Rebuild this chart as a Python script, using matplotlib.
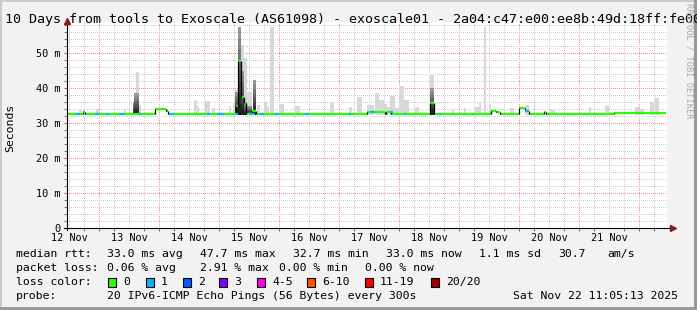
import numpy as np
import matplotlib
matplotlib.use("Agg")
import matplotlib.pyplot as plt
from matplotlib.patches import Rectangle

W, H = 697, 310
MONO = "DejaVu Sans Mono"

# x axis: hours since Wed Nov 12 11:05:13 2025, 10 days shown
span_hours = 240
start_clock = 11 + 5 / 60 + 13 / 3600
day_labels = ["12 Nov", "13 Nov", "14 Nov", "15 Nov", "16 Nov",
              "17 Nov", "18 Nov", "19 Nov", "20 Nov", "21 Nov"]

# median rtt (ms), step function: value holds from med_t[i] to med_t[i+1]
med_t = [0, 6.4, 7.2, 35.2, 39.6, 40.4, 67.6, 68.4, 69.6, 70.8, 71.6, 74.0, 75.6,
         120.0, 127.2, 127.6, 129.6, 145.2, 146.8, 169.6, 171.6, 173.2, 180.8,
         183.2, 184.8, 190.8, 191.6, 218.8, 239.6]
med_v = [32.7, 33.3, 32.7, 34.2, 33.4, 32.7, 35.0, 47.7, 37.6, 35.9, 32.7, 33.5, 32.7,
         33.1, 32.7, 33.1, 32.7, 35.8, 32.7, 33.4, 33.1, 32.7, 34.3,
         33.5, 32.7, 33.1, 32.7, 33.0, 33.0]

# periods with 1/20 packet lost (blue median)
loss1_from = [3.6, 6.4, 11.2, 15.6, 20.8, 28.8, 40.8, 56.0, 60.0, 67.2, 73.2, 77.2,
              83.2, 95.2, 112.8, 121.2, 129.2, 134.8, 148.8, 183.2]
loss1_to = [5.2, 7.2, 12.8, 16.8, 22.8, 29.6, 42.8, 57.2, 62.8, 68.4, 75.2, 78.8,
            84.8, 96.8, 113.6, 123.2, 130.4, 135.6, 149.6, 184.8]

# smoke (spread of the 20 pings): time span, highest ping, top of dark core (0 = none)
smoke_t0 = [4.8, 11.6, 22.8, 26.4, 26.8, 27.6, 28.8, 50.8, 52.0, 55.2, 58.0, 64.8,
            66.4, 67.2, 68.4, 69.6, 70.8, 72.0, 74.4, 76.0, 78.8, 80.0, 81.2, 84.8,
            91.2, 105.2, 112.8, 116.0, 120.0, 123.2, 124.8, 126.8, 128.0, 129.2,
            131.2, 132.8, 134.8, 139.2, 145.2, 154.0, 158.8, 163.2, 164.8, 166.8,
            168.8, 177.2, 183.2, 186.8, 193.2, 208.8, 215.2, 227.2, 228.8, 233.2, 235.2]
smoke_t1 = [6.0, 12.8, 23.6, 26.8, 27.6, 28.8, 29.6, 52.0, 52.8, 57.2, 59.2, 65.6,
            67.2, 68.4, 69.6, 70.8, 72.0, 74.0, 75.6, 77.2, 80.0, 80.8, 82.8, 86.8,
            93.2, 106.8, 114.0, 118.0, 122.8, 124.8, 126.8, 128.0, 129.2, 131.2,
            132.8, 134.8, 136.8, 140.8, 146.8, 154.8, 159.6, 164.8, 165.6, 167.6,
            169.6, 178.8, 184.8, 187.2, 195.2, 209.6, 216.8, 228.8, 230.8, 234.8, 236.8]
smoke_hi = [34.0, 34.0, 34.0, 36.0, 38.6, 44.6, 35.2, 36.6, 34.9, 36.3, 34.3, 34.9,
            36.2, 39.5, 57.4, 52.4, 48.6, 39.0, 42.4, 35.2, 36.2, 34.9, 57.4, 35.5,
            34.9, 35.8, 34.5, 37.6, 35.2, 38.7, 36.6, 35.5, 34.7, 37.8,
            34.3, 40.5, 36.6, 34.6, 43.8, 33.8, 34.3, 34.6, 36.2, 57.4,
            35.2, 34.3, 35.2, 35.2, 33.8, 34.5, 34.9, 34.6, 34.0, 36.2, 37.2]
smoke_core = [0, 0, 0, 36.0, 38.6, 38.6, 0, 0, 0, 0, 0, 0,
              0, 39.0, 57.4, 45.0, 36.0, 35.0, 42.4, 0, 0, 0, 0, 0,
              0, 0, 0, 0, 0, 0, 0, 0, 0, 0,
              0, 0, 0, 0, 40.0, 0, 0, 0, 0, 0,
              0, 0, 0, 0, 0, 0, 0, 0, 0, 0, 0]

loss_labels = ["0", "1", "2", "3", "4-5", "6-10", "11-19", "20/20"]
loss_colors = ["#26ff00", "#00b8ff", "#0059ff", "#7e00ff", "#ff00ea", "#ff5500", "#ff0000", "#a00000"]


def fx(x):
    return x / W


def fy(y):
    return 1 - y / H


fig = plt.figure(figsize=(W / 100, H / 100), dpi=100, facecolor="#f2f2f2")

# 3d frame
fig.add_artist(Rectangle((0, 0), fx(2), 1, transform=fig.transFigure, color="#cbcbcb", lw=0))
fig.add_artist(Rectangle((0, fy(2)), 1, 2 / H, transform=fig.transFigure, color="#cbcbcb", lw=0))
fig.add_artist(Rectangle((fx(694), 0), fx(3), 1, transform=fig.transFigure, color="#999999", lw=0))
fig.add_artist(Rectangle((0, 0), 1, 3 / H, transform=fig.transFigure, color="#999999", lw=0))

y_top = 58.9
ax = fig.add_axes([fx(67), fy(228.3), 600 / W, 206.3 / H], facecolor="white")
ax.set_xlim(0, span_hours)
ax.set_ylim(0, y_top)
for s in ax.spines.values():
    s.set_visible(False)

# grid (dotted, 1px on / 1px off)
first_midnight = 24 - start_clock
six_h = np.arange(first_midnight - 18, span_hours, 6)
six_h = six_h[six_h > 0]
for t in six_h:
    major = abs((t - first_midnight) % 24) < 1e-6
    ax.axvline(t, color="#ff8a8a" if major else "#cdcdcd", lw=0.72,
               ls=(0.5, (1, 1)), zorder=0.5)
for v in np.arange(2, y_top, 2):
    major = int(round(v)) % 10 == 0
    ax.axhline(v, color="#ff8a8a" if major else "#cdcdcd", lw=0.72,
               ls=(0.5, (1, 1)), zorder=0.5)

# smoke
base = 32.4
for t0, t1, hi, core in zip(smoke_t0, smoke_t1, smoke_hi, smoke_core):
    ax.bar(t0, hi - base, width=t1 - t0, bottom=base, align="edge",
           color="#d8d8d8", lw=0, zorder=2)
    if core > base:
        n = 8
        step = (core - base) / n
        for k in range(n):
            g = 0.12 + 0.48 * k / (n - 1)
            ax.bar(t0, step, width=t1 - t0, bottom=base + k * step, align="edge",
                   color=(g, g, g), lw=0, zorder=2.1)

# median line coloured by loss
for i in range(len(med_t) - 1):
    ax.hlines(med_v[i], med_t[i], med_t[i + 1], color=loss_colors[0], lw=1.6,
              zorder=3, capstyle="butt")
    if i > 0:
        ax.vlines(med_t[i], min(med_v[i - 1], med_v[i]), max(med_v[i - 1], med_v[i]),
                  color="black", lw=0.9, zorder=3.1)
for a, b in zip(loss1_from, loss1_to):
    i = np.searchsorted(med_t, a, side="right") - 1
    ax.hlines(med_v[i], a, b, color=loss_colors[1], lw=1.6, zorder=3.2, capstyle="butt")

# axes with arrows
ax.plot([0, 0], [-0.6, y_top], color="black", lw=0.8, clip_on=False, zorder=5)
ax.plot([-1.2, 242], [0, 0], color="black", lw=0.8, clip_on=False, zorder=5)
ax.plot([0], [y_top + 0.3], marker="^", ms=4.5, color="#8b1a1a", clip_on=False, zorder=6)
ax.plot([242.2], [0], marker=">", ms=4.5, color="#8b1a1a", clip_on=False, zorder=6)

# ticks and labels
ax.set_yticks(np.arange(0, 51, 10))
ax.set_yticklabels(["0"] + ["%d m" % v for v in range(10, 51, 10)])
ax.set_yticks(np.arange(0, y_top, 2), minor=True)
ax.tick_params(axis="y", which="both", length=2, width=0.7, color="#707070", pad=2.5)
noon = first_midnight - 12 + 24 * np.arange(len(day_labels))
ax.set_xticks(noon)
ax.set_xticklabels(day_labels)
ax.set_xticks(six_h, minor=True)
ax.tick_params(axis="x", which="major", length=0, pad=3.6)
ax.tick_params(axis="x", which="minor", length=2, width=0.7, color="#707070")
for lab in ax.get_xticklabels() + ax.get_yticklabels():
    lab.set_fontfamily(MONO)
    lab.set_fontsize(7.4)

fig.text(fx(10.5), fy(127.5), "Seconds", rotation=90, ha="center", va="center",
         family=MONO, fontsize=8.25)

fig.text(fx(5), fy(19.5), "10 Days from tools to Exoscale (AS61098) - exoscale01 - "
         "2a04:c47:e00:ee8b:49d:18ff:fe00", ha="left", va="center",
         family=MONO, fontsize=9.6)
fig.text(fx(688.5), fy(3), "RRDTOOL / TOBI OETIKER", rotation=270, ha="center", va="top",
         family=MONO, fontsize=6.2, color="#a8a8a8")

# legend
rows = [
    (254, [("median rtt:", 16), ("33.0 ms avg", 107), ("47.7 ms max", 200),
           ("32.7 ms min", 293), ("33.0 ms now", 386), ("1.1 ms sd", 479),
           ("30.7", 558), ("am/s", 607)]),
    (268, [("packet loss:", 16), ("0.06 % avg", 107), ("2.91 % max", 200),
           ("0.00 % min", 279), ("0.00 % now", 365)]),
    (282, [("loss color:", 16)]),
    (296, [("probe:", 16), ("20 IPv6-ICMP Echo Pings (56 Bytes) every 300s", 107),
           ("Sat Nov 22 11:05:13 2025", 513)]),
]
for y, items in rows:
    for txt, x in items:
        fig.text(fx(x), fy(y), txt, ha="left", va="center", family=MONO, fontsize=8.25)

box_x = [108, 146, 183, 219, 257, 307, 365, 431]
for x, lab, col in zip(box_x, loss_labels, loss_colors):
    fig.add_artist(Rectangle((fx(x), fy(286.5)), 8 / W, 8.5 / H, transform=fig.transFigure,
                             facecolor=col, edgecolor="black", lw=0.8))
    fig.text(fx(x + 15), fy(282), lab, ha="left", va="center", family=MONO, fontsize=8.25)

fig.savefig("out.png", dpi=100, facecolor=fig.get_facecolor())
